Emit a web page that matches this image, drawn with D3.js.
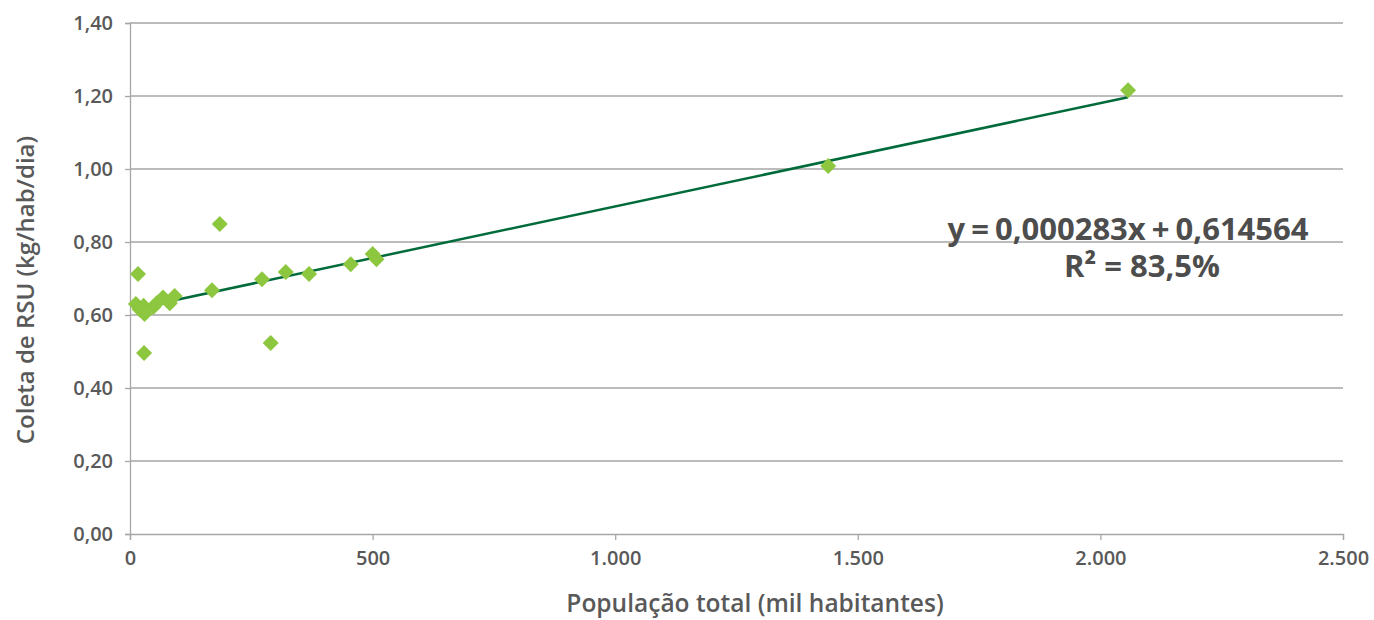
<!DOCTYPE html>
<html><head><meta charset="utf-8">
<script src="https://cdn.jsdelivr.net/npm/d3@7"></script>
<style>
body{margin:0;background:#fff;}
text{font-family:"Open Sans",sans-serif;}
</style></head>
<body>
<svg id="chart" width="1374" height="620"></svg>
<script>
const populacao = [12, 20, 16.5, 28, 30, 29, 48, 55, 68, 82, 92, 169, 185, 272, 290, 321, 369, 455, 500, 508, 1439, 2057];
const coleta    = [0.630, 0.615, 0.712, 0.625, 0.603, 0.496, 0.622, 0.632, 0.648, 0.632, 0.652, 0.668, 0.849, 0.698, 0.523, 0.718, 0.712, 0.739, 0.767, 0.753, 1.008, 1.216];
const xTicks = [0, 500, 1000, 1500, 2000, 2500];
const yTicks = [0, 0.2, 0.4, 0.6, 0.8, 1.0, 1.2, 1.4];
const slope = 0.000283, intercept = 0.614564;
const eqLabel = "y = 0,000283x + 0,614564";
const r2Label = "R² = 83,5%";
const xTitle = "População total (mil habitantes)";
const yTitle = "Coleta de RSU (kg/hab/dia)";

const svg = d3.select("#chart");
const x = d3.scaleLinear().domain([0, 2500]).range([130, 1343]);
const y = d3.scaleLinear().domain([0, 1.4]).range([534, 23]);
const fmtX = v => v === 0 ? "0" : d3.format(",")(v).replace(/,/g, ".");
const fmtY = v => v.toFixed(2).replace(".", ",");

// gridlines
svg.append("g").selectAll("line").data(yTicks.slice(1)).join("line")
  .attr("x1", x(0)).attr("x2", x(2500))
  .attr("y1", d => y(d)).attr("y2", d => y(d))
  .attr("stroke", "#a6a6a6").attr("stroke-width", 1.3);

// y axis
const yAxis = svg.append("g").attr("transform", `translate(${x(0)},0)`)
  .call(d3.axisLeft(y).tickValues(yTicks).tickFormat(fmtY).tickSize(5).tickPadding(12));
yAxis.select(".domain").attr("stroke", "#a6a6a6").attr("stroke-width", 1.3);
yAxis.selectAll(".tick line").attr("stroke", "#a6a6a6").attr("stroke-width", 1.3);
yAxis.selectAll(".tick text").attr("fill", "#595959").style("font-size", "20px").style("font-weight", "600").style("font-family", "'Open Sans',sans-serif");

// x axis
const xAxis = svg.append("g").attr("transform", `translate(0,${y(0)})`)
  .call(d3.axisBottom(x).tickValues(xTicks).tickFormat(fmtX).tickSize(6).tickPadding(11));
xAxis.select(".domain").attr("stroke", "#a6a6a6").attr("stroke-width", 1.3);
xAxis.selectAll(".tick line").attr("stroke", "#a6a6a6").attr("stroke-width", 1.3);
xAxis.selectAll(".tick text").attr("fill", "#595959").style("font-size", "20px").style("font-weight", "600").style("font-family", "'Open Sans',sans-serif");

// trend line
const xmin = d3.min(populacao), xmax = d3.max(populacao);
svg.append("line")
  .attr("x1", x(xmin)).attr("y1", y(intercept + slope * xmin))
  .attr("x2", x(xmax)).attr("y2", y(intercept + slope * xmax))
  .attr("stroke", "#006b3a").attr("stroke-width", 2.5);

// points (diamonds)
const sq = d3.symbol().type(d3.symbolSquare).size(128);
svg.append("g").selectAll("path").data(populacao.map((p, i) => [p, coleta[i]])).join("path")
  .attr("d", sq)
  .attr("transform", d => `translate(${x(d[0])},${y(d[1])}) rotate(45)`)
  .attr("fill", "#8dc63f");

// equation (one text block, two lines)
const eq = svg.append("text").attr("text-anchor", "middle")
  .attr("fill", "#4d4d4d").style("font-size", "31px").style("font-weight", "700");
eq.append("tspan").attr("x", 1128).attr("y", 240).style("word-spacing", "-2px").text(eqLabel);
eq.append("tspan").attr("x", 1142).attr("y", 277).text(r2Label);

// axis titles
svg.append("text").attr("x", 755).attr("y", 612).attr("text-anchor", "middle")
  .attr("fill", "#595959").style("font-size", "24.5px").style("font-weight", "600").text(xTitle);
svg.append("text").attr("transform", "translate(34,290) rotate(-90)").attr("text-anchor", "middle")
  .attr("fill", "#595959").style("font-size", "24px").style("font-weight", "600").text(yTitle);
</script>
</body></html>
